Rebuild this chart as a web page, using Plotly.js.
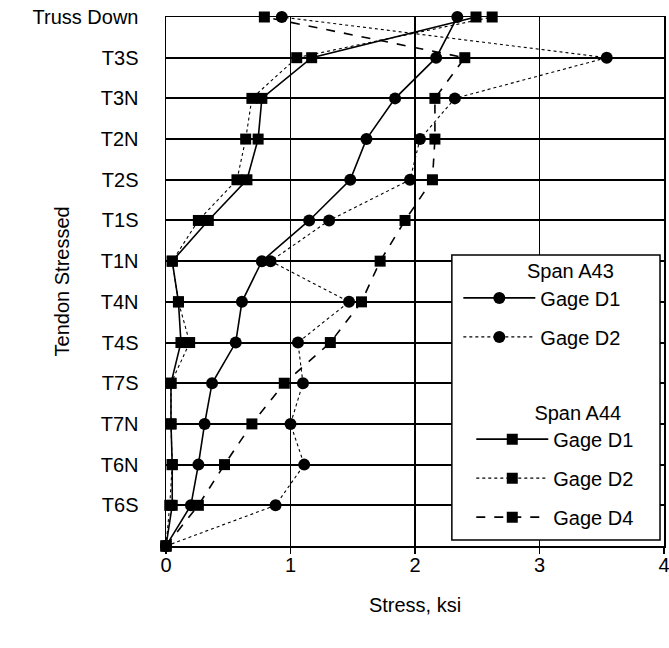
<!DOCTYPE html>
<html>
<head>
<meta charset="utf-8">
<script src="https://cdn.plot.ly/plotly-3.0.1.min.js"></script>
<style>html,body{margin:0;padding:0;background:#fff;}</style>
</head>
<body>
<div id="chart" style="width:669px;height:648px;"></div>
<script>
// Tendon stressed (index 0 = start point, unlabeled)
const categories = ["", "T6S", "T6N", "T7N", "T7S", "T4S", "T4N", "T1N", "T1S", "T2S", "T2N", "T3N", "T3S", "Truss Down"];
const catIndex = [0, 1, 2, 3, 4, 5, 6, 7, 8, 9, 10, 11, 12, 13];

// Stress, ksi
const a43_d1 = [0, 0.20, 0.26, 0.31, 0.37, 0.56, 0.61, 0.77, 1.15, 1.48, 1.61, 1.84, 2.17, 2.34];
const a43_d2 = [0, 0.88, 1.11, 1.00, 1.10, 1.06, 1.47, 0.84, 1.31, 1.96, 2.04, 2.32, 3.54, 0.93];
const a44_d1 = [0, 0.05, 0.05, 0.04, 0.04, 0.12, 0.10, 0.05, 0.34, 0.65, 0.74, 0.77, 1.17, 2.49];
const a44_d2 = [0, 0.03, 0.05, 0.04, 0.04, 0.19, 0.10, 0.05, 0.26, 0.57, 0.64, 0.69, 1.05, 2.62];
const a44_d4 = [0, 0.26, 0.47, 0.69, 0.95, 1.32, 1.57, 1.72, 1.92, 2.14, 2.16, 2.16, 2.40, 0.79];

const xTicks = [0, 1, 2, 3, 4];

const FONT = "Liberation Sans, Arial, sans-serif";
const FS = 20;

function tr(x, name, group, legendId, symbol, dash, width, msize) {
  return {
    type: "scatter", mode: "lines+markers",
    x: x, y: catIndex, name: name,
    legend: legendId, legendgroup: group,
    line: {color: "#000", width: width, dash: dash},
    marker: {symbol: symbol, size: msize, color: "#000"},
    cliponaxis: false
  };
}

const data = [
  tr(a43_d1, "Gage D1", "g1", "legend", "circle", "solid", 1.6, 12),
  tr(a43_d2, "Gage D2", "g2", "legend", "circle", "dot", 1.1, 12),
  tr(a44_d1, "Gage D1", "g3", "legend2", "square", "solid", 1.6, 11),
  tr(a44_d2, "Gage D2", "g4", "legend2", "square", "dot", 1.1, 11),
  tr(a44_d4, "Gage D4", "g5", "legend2", "square", "dash", 1.6, 11)
];

const legendBase = {
  xanchor: "left", yanchor: "top",
  bgcolor: "rgba(0,0,0,0)", borderwidth: 0,
  font: {family: FONT, size: FS, color: "#000"},
  tracegroupgap: 10, itemwidth: 72
};

const pad = n => "&nbsp;".repeat(n);

const layout = {
  width: 669, height: 648,
  margin: {l: 166, r: 5, t: 17, b: 102, pad: 0},
  paper_bgcolor: "#fff", plot_bgcolor: "#fff",
  font: {family: FONT, size: FS, color: "#000"},
  showlegend: true,
  legend: Object.assign({}, legendBase, {
    x: 0.587, y: 0.555,
    title: {text: pad(12) + "Span A43", font: {family: FONT, size: FS, color: "#000"}}
  }),
  legend2: Object.assign({}, legendBase, {
    x: 0.613, y: 0.288,
    title: {text: pad(11) + "Span A44", font: {family: FONT, size: FS, color: "#000"}}
  }),
  xaxis: {
    range: [0, 4], tickvals: xTicks, ticktext: xTicks.map(String),
    showgrid: true, gridcolor: "#000", gridwidth: 1.5,
    zeroline: false, showline: true, linecolor: "#000", linewidth: 1.5, mirror: true,
    ticks: "outside", ticklen: 6, tickcolor: "#000", tickwidth: 1.5,
    ticklabeloverflow: "allow", ticklabelstandoff: -6,
    tickfont: {family: FONT, size: FS, color: "#000"},
    title: {text: "Stress, ksi", font: {family: FONT, size: FS, color: "#000"}, standoff: 23},
    fixedrange: true
  },
  yaxis: {
    range: [0, 13], tickvals: catIndex.slice(1), ticktext: categories.slice(1),
    showgrid: true, gridcolor: "#000", gridwidth: 2,
    zeroline: false, showline: true, linecolor: "#000", linewidth: 1.5, mirror: true,
    ticks: "", ticklabelstandoff: 22,
    tickfont: {family: FONT, size: FS, color: "#000"},
    fixedrange: true
  },
  shapes: [{
    type: "rect", xref: "paper", yref: "paper",
    x0: 0.574, x1: 0.992, y0: 0.0113, y1: 0.550,
    line: {color: "#000", width: 1.5}, fillcolor: "#fff", layer: "above"
  }],
  annotations: [{
    text: "Tendon Stressed", textangle: -90, showarrow: false,
    xref: "paper", yref: "paper", x: -0.209, y: 0.5, xanchor: "center", yanchor: "middle",
    font: {family: FONT, size: FS, color: "#000"}
  }]
};

Plotly.newPlot("chart", data, layout, {displayModeBar: false, staticPlot: true});
</script>
</body>
</html>
